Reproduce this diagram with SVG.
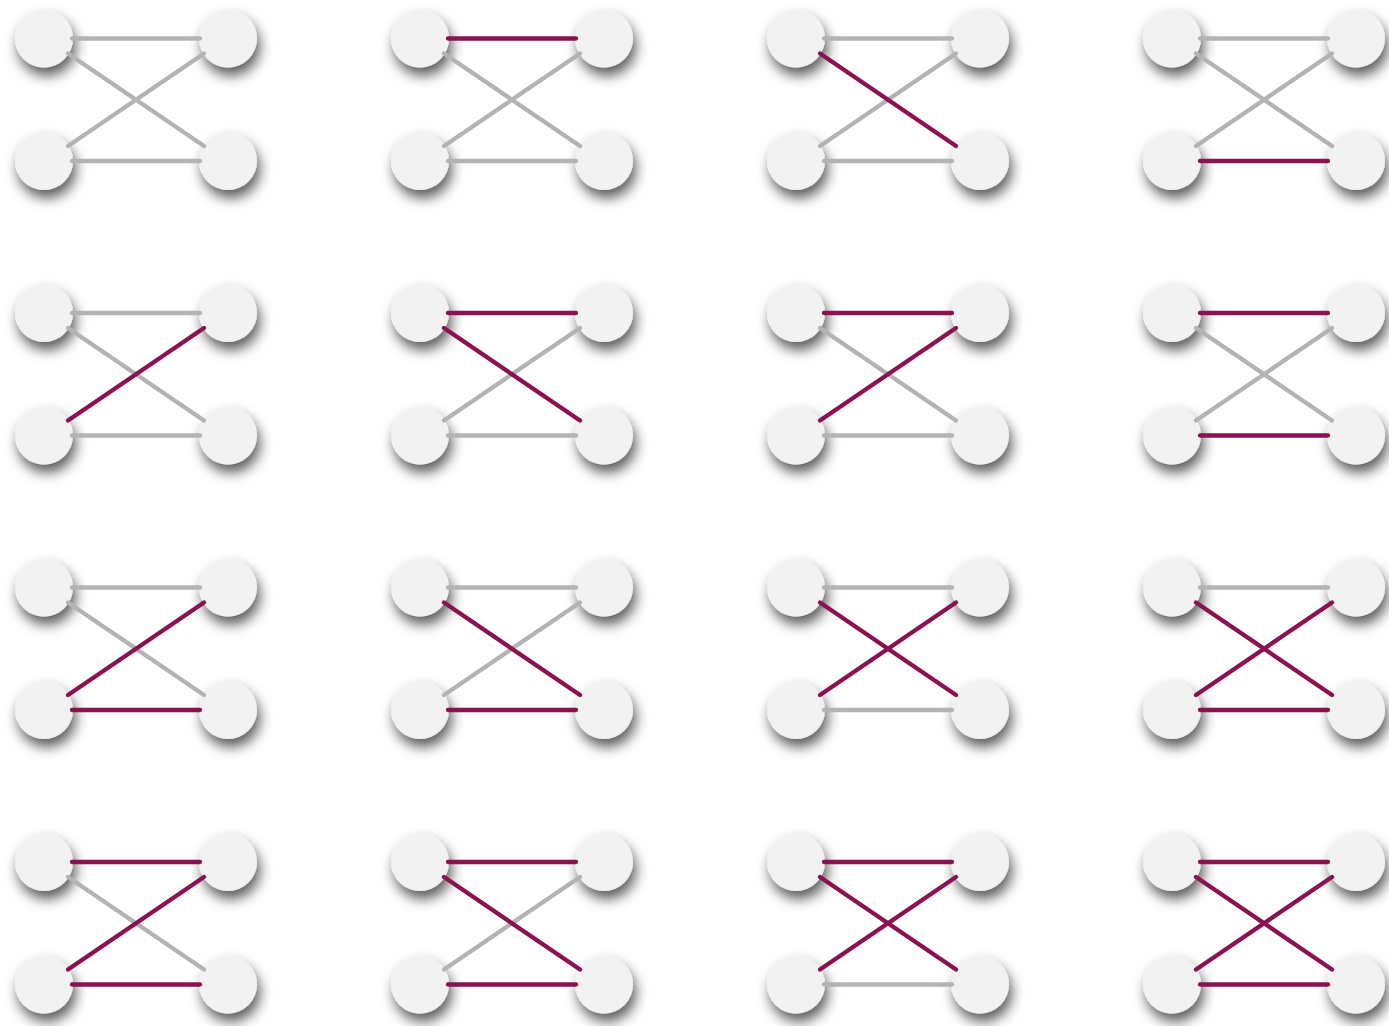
<svg xmlns="http://www.w3.org/2000/svg" width="1389" height="1026" viewBox="0 0 1389 1026">
<style>
.n{fill:#f2f2f2;filter:url(#sh)}
.g{stroke:#b3b3b3;stroke-width:4.3;stroke-linecap:round;fill:none}
.p{stroke:#8c1150;stroke-width:4.3;stroke-linecap:round;fill:none}
</style>
<defs>
<filter id="sh" x="-60%" y="-60%" width="220%" height="220%">
<feDropShadow dx="3" dy="8" stdDeviation="6.5" flood-color="#000" flood-opacity="0.65"/>
</filter>
<line id="h1" x1="28" y1="0" x2="156" y2="0"/>
<line id="h2" x1="28" y1="122.5" x2="156" y2="122.5"/>
<line id="d1" x1="24" y1="15" x2="160" y2="107.5"/>
<line id="d2" x1="24" y1="107.5" x2="160" y2="15"/>
</defs>
<rect width="1389" height="1026" fill="#fff"/>
<g id="nodes">
<g id="p00"><g id="n00a"><circle class="n" cx="44" cy="38.5" r="29"/></g><g id="n00b"><circle class="n" cx="228" cy="38.5" r="29"/></g><g id="n00c"><circle class="n" cx="44" cy="161" r="29"/></g><g id="n00d"><circle class="n" cx="228" cy="161" r="29"/></g></g>
<g id="p10"><g id="n10a"><circle class="n" cx="420" cy="38.5" r="29"/></g><g id="n10b"><circle class="n" cx="604" cy="38.5" r="29"/></g><g id="n10c"><circle class="n" cx="420" cy="161" r="29"/></g><g id="n10d"><circle class="n" cx="604" cy="161" r="29"/></g></g>
<g id="p20"><g id="n20a"><circle class="n" cx="796" cy="38.5" r="29"/></g><g id="n20b"><circle class="n" cx="980" cy="38.5" r="29"/></g><g id="n20c"><circle class="n" cx="796" cy="161" r="29"/></g><g id="n20d"><circle class="n" cx="980" cy="161" r="29"/></g></g>
<g id="p30"><g id="n30a"><circle class="n" cx="1172" cy="38.5" r="29"/></g><g id="n30b"><circle class="n" cx="1356" cy="38.5" r="29"/></g><g id="n30c"><circle class="n" cx="1172" cy="161" r="29"/></g><g id="n30d"><circle class="n" cx="1356" cy="161" r="29"/></g></g>
<g id="p01"><g id="n01a"><circle class="n" cx="44" cy="313" r="29"/></g><g id="n01b"><circle class="n" cx="228" cy="313" r="29"/></g><g id="n01c"><circle class="n" cx="44" cy="435.5" r="29"/></g><g id="n01d"><circle class="n" cx="228" cy="435.5" r="29"/></g></g>
<g id="p11"><g id="n11a"><circle class="n" cx="420" cy="313" r="29"/></g><g id="n11b"><circle class="n" cx="604" cy="313" r="29"/></g><g id="n11c"><circle class="n" cx="420" cy="435.5" r="29"/></g><g id="n11d"><circle class="n" cx="604" cy="435.5" r="29"/></g></g>
<g id="p21"><g id="n21a"><circle class="n" cx="796" cy="313" r="29"/></g><g id="n21b"><circle class="n" cx="980" cy="313" r="29"/></g><g id="n21c"><circle class="n" cx="796" cy="435.5" r="29"/></g><g id="n21d"><circle class="n" cx="980" cy="435.5" r="29"/></g></g>
<g id="p31"><g id="n31a"><circle class="n" cx="1172" cy="313" r="29"/></g><g id="n31b"><circle class="n" cx="1356" cy="313" r="29"/></g><g id="n31c"><circle class="n" cx="1172" cy="435.5" r="29"/></g><g id="n31d"><circle class="n" cx="1356" cy="435.5" r="29"/></g></g>
<g id="p02"><g id="n02a"><circle class="n" cx="44" cy="587.5" r="29"/></g><g id="n02b"><circle class="n" cx="228" cy="587.5" r="29"/></g><g id="n02c"><circle class="n" cx="44" cy="710" r="29"/></g><g id="n02d"><circle class="n" cx="228" cy="710" r="29"/></g></g>
<g id="p12"><g id="n12a"><circle class="n" cx="420" cy="587.5" r="29"/></g><g id="n12b"><circle class="n" cx="604" cy="587.5" r="29"/></g><g id="n12c"><circle class="n" cx="420" cy="710" r="29"/></g><g id="n12d"><circle class="n" cx="604" cy="710" r="29"/></g></g>
<g id="p22"><g id="n22a"><circle class="n" cx="796" cy="587.5" r="29"/></g><g id="n22b"><circle class="n" cx="980" cy="587.5" r="29"/></g><g id="n22c"><circle class="n" cx="796" cy="710" r="29"/></g><g id="n22d"><circle class="n" cx="980" cy="710" r="29"/></g></g>
<g id="p32"><g id="n32a"><circle class="n" cx="1172" cy="587.5" r="29"/></g><g id="n32b"><circle class="n" cx="1356" cy="587.5" r="29"/></g><g id="n32c"><circle class="n" cx="1172" cy="710" r="29"/></g><g id="n32d"><circle class="n" cx="1356" cy="710" r="29"/></g></g>
<g id="p03"><g id="n03a"><circle class="n" cx="44" cy="862" r="29"/></g><g id="n03b"><circle class="n" cx="228" cy="862" r="29"/></g><g id="n03c"><circle class="n" cx="44" cy="984.5" r="29"/></g><g id="n03d"><circle class="n" cx="228" cy="984.5" r="29"/></g></g>
<g id="p13"><g id="n13a"><circle class="n" cx="420" cy="862" r="29"/></g><g id="n13b"><circle class="n" cx="604" cy="862" r="29"/></g><g id="n13c"><circle class="n" cx="420" cy="984.5" r="29"/></g><g id="n13d"><circle class="n" cx="604" cy="984.5" r="29"/></g></g>
<g id="p23"><g id="n23a"><circle class="n" cx="796" cy="862" r="29"/></g><g id="n23b"><circle class="n" cx="980" cy="862" r="29"/></g><g id="n23c"><circle class="n" cx="796" cy="984.5" r="29"/></g><g id="n23d"><circle class="n" cx="980" cy="984.5" r="29"/></g></g>
<g id="p33"><g id="n33a"><circle class="n" cx="1172" cy="862" r="29"/></g><g id="n33b"><circle class="n" cx="1356" cy="862" r="29"/></g><g id="n33c"><circle class="n" cx="1172" cy="984.5" r="29"/></g><g id="n33d"><circle class="n" cx="1356" cy="984.5" r="29"/></g></g>
</g>
<g id="connectors">
<g transform="translate(44,38.5)"><use href="#h1" class="g"/><use href="#d1" class="g"/><use href="#d2" class="g"/><use href="#h2" class="g"/></g>
<g transform="translate(420,38.5)"><use href="#d1" class="g"/><use href="#d2" class="g"/><use href="#h2" class="g"/><use href="#h1" class="p"/></g>
<g transform="translate(796,38.5)"><use href="#h1" class="g"/><use href="#d2" class="g"/><use href="#h2" class="g"/><use href="#d1" class="p"/></g>
<g transform="translate(1172,38.5)"><use href="#h1" class="g"/><use href="#d1" class="g"/><use href="#d2" class="g"/><use href="#h2" class="p"/></g>
<g transform="translate(44,313)"><use href="#h1" class="g"/><use href="#d1" class="g"/><use href="#h2" class="g"/><use href="#d2" class="p"/></g>
<g transform="translate(420,313)"><use href="#d2" class="g"/><use href="#h2" class="g"/><use href="#h1" class="p"/><use href="#d1" class="p"/></g>
<g transform="translate(796,313)"><use href="#d1" class="g"/><use href="#h2" class="g"/><use href="#h1" class="p"/><use href="#d2" class="p"/></g>
<g transform="translate(1172,313)"><use href="#d1" class="g"/><use href="#d2" class="g"/><use href="#h1" class="p"/><use href="#h2" class="p"/></g>
<g transform="translate(44,587.5)"><use href="#h1" class="g"/><use href="#d1" class="g"/><use href="#d2" class="p"/><use href="#h2" class="p"/></g>
<g transform="translate(420,587.5)"><use href="#h1" class="g"/><use href="#d2" class="g"/><use href="#d1" class="p"/><use href="#h2" class="p"/></g>
<g transform="translate(796,587.5)"><use href="#h1" class="g"/><use href="#h2" class="g"/><use href="#d1" class="p"/><use href="#d2" class="p"/></g>
<g transform="translate(1172,587.5)"><use href="#h1" class="g"/><use href="#d1" class="p"/><use href="#d2" class="p"/><use href="#h2" class="p"/></g>
<g transform="translate(44,862)"><use href="#d1" class="g"/><use href="#h1" class="p"/><use href="#d2" class="p"/><use href="#h2" class="p"/></g>
<g transform="translate(420,862)"><use href="#d2" class="g"/><use href="#h1" class="p"/><use href="#d1" class="p"/><use href="#h2" class="p"/></g>
<g transform="translate(796,862)"><use href="#h2" class="g"/><use href="#h1" class="p"/><use href="#d1" class="p"/><use href="#d2" class="p"/></g>
<g transform="translate(1172,862)"><use href="#h1" class="p"/><use href="#d1" class="p"/><use href="#d2" class="p"/><use href="#h2" class="p"/></g>
</g>
</svg>
